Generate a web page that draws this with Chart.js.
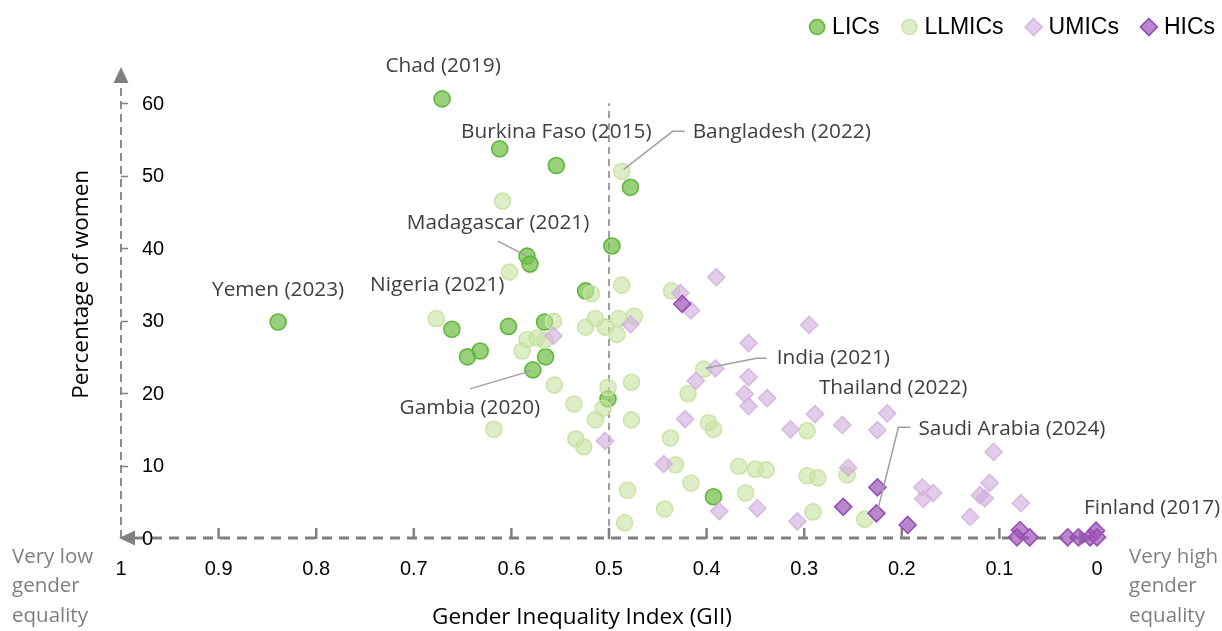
<!DOCTYPE html>
<html>
<head>
<meta charset="utf-8">
<script src="https://cdn.jsdelivr.net/npm/chart.js@4.4.1/dist/chart.umd.min.js"></script>
<style>
html,body{margin:0;padding:0;background:#ffffff;}
#wrap{width:1222px;height:631px;}
</style>
</head>
<body>
<div id="wrap"><canvas id="c" width="1222" height="631"></canvas></div>
<script>
// ---------------- DATA ----------------
const seriesNames = ['LICs', 'LLMICs', 'UMICs', 'HICs'];

const licGII = [0.671, 0.612, 0.554, 0.478, 0.497, 0.584, 0.581, 0.524, 0.661, 0.603, 0.566, 0.645, 0.632, 0.565, 0.578, 0.839, 0.501, 0.393];
const licPct = [60.6, 53.7, 51.4, 48.4, 40.3, 38.9, 37.8, 34.1, 28.8, 29.2, 29.8, 25.0, 25.8, 25.0, 23.2, 29.8, 19.2, 5.7];

const llmicGII = [0.487, 0.609, 0.602, 0.487, 0.518, 0.436, 0.514, 0.524, 0.504, 0.490, 0.474, 0.492, 0.677, 0.557, 0.584, 0.574, 0.566, 0.589,
  0.556, 0.536, 0.501, 0.506, 0.514, 0.477, 0.477, 0.618, 0.534, 0.526, 0.403, 0.419, 0.398, 0.393, 0.437, 0.297, 0.432, 0.367,
  0.350, 0.339, 0.297, 0.286, 0.416, 0.481, 0.360, 0.443, 0.291, 0.484, 0.256, 0.238];
const llmicPct = [50.6, 46.5, 36.7, 34.9, 33.7, 34.1, 30.3, 29.1, 29.1, 30.3, 30.6, 28.1, 30.3, 29.9, 27.4, 27.6, 27.3, 25.8,
  21.1, 18.5, 20.8, 17.9, 16.3, 21.5, 16.3, 15.0, 13.7, 12.6, 23.3, 19.9, 15.9, 15.0, 13.8, 14.8, 10.1, 9.9,
  9.5, 9.4, 8.6, 8.3, 7.6, 6.6, 6.2, 4.0, 3.6, 2.1, 8.7, 2.6];

const umicGII = [0.557, 0.504, 0.427, 0.416, 0.390, 0.478, 0.391, 0.411, 0.357, 0.357, 0.361, 0.357, 0.338, 0.295, 0.422, 0.314, 0.289,
  0.444, 0.387, 0.348, 0.307, 0.261, 0.215, 0.225, 0.255, 0.179, 0.178, 0.168, 0.110, 0.120, 0.115, 0.130, 0.106, 0.078];
const umicPct = [27.9, 13.4, 33.8, 31.4, 36.0, 29.5, 23.4, 21.7, 26.9, 22.2, 19.9, 18.2, 19.3, 29.4, 16.4, 15.0, 17.1,
  10.2, 3.7, 4.1, 2.3, 15.6, 17.2, 14.9, 9.7, 7.0, 5.4, 6.2, 7.6, 5.9, 5.5, 2.9, 11.9, 4.8];

const hicGII = [0.425, 0.225, 0.260, 0.226, 0.194, 0.079, 0.082, 0.069, 0.030, 0.019, 0.007, 0.001, 0.000];
const hicPct = [32.3, 7.0, 4.3, 3.4, 1.8, 1.1, 0.1, 0.1, 0.1, 0.1, 0.1, 1.0, 0.1];

const xTicks = [1, 0.9, 0.8, 0.7, 0.6, 0.5, 0.4, 0.3, 0.2, 0.1, 0];
const xTickLabels = ['1', '0.9', '0.8', '0.7', '0.6', '0.5', '0.4', '0.3', '0.2', '0.1', '0'];
const yTicks = [0, 10, 20, 30, 40, 50, 60];
const yTickLabels = ['0', '10', '20', '30', '40', '50', '60'];
const dividerGII = 0.5;

const xTitle = 'Gender Inequality Index (GII)';
const yTitle = 'Percentage of women';
const leftNote = ['Very low', 'gender', 'equality'];
const rightNote = ['Very high', 'gender', 'equality'];

const annotationText = ['Chad (2019)', 'Burkina Faso (2015)', 'Bangladesh (2022)', 'Madagascar (2021)', 'Nigeria (2021)',
  'Yemen (2023)', 'Gambia (2020)', 'India (2021)', 'Thailand (2022)', 'Saudi Arabia (2024)', 'Finland (2017)'];
const annotationGII = [0.671, 0.554, 0.487, 0.584, 0.677, 0.839, 0.578, 0.403, 0.215, 0.226, 0.001];
const annotationPct = [60.6, 51.4, 50.6, 38.9, 30.3, 29.8, 23.2, 23.3, 17.2, 3.4, 1.0];

// ---------------- LAYOUT / STYLE (not data) ----------------
const annotationLayout = [
  {dx: 1, dy: -33, align: 'center'},
  {dx: 0, dy: -33, align: 'center'},
  {dx: 71, dy: -39, align: 'left', leader: [[2, -2], [51, -40], [63, -40]]},
  {dx: -29, dy: -33, align: 'center', leader: [[-29, -15], [-2, -1]]},
  {dx: 1, dy: -33, align: 'center'},
  {dx: 0, dy: -32, align: 'center'},
  {dx: -63, dy: 38, align: 'center', leader: [[-63, 19], [-2, 1]]},
  {dx: 73, dy: -11, align: 'left', leader: [[2, -1], [53, -11], [63, -11]]},
  {dx: 6, dy: -25, align: 'center'},
  {dx: 42, dy: -84, align: 'left', leader: [[1, -2], [22, -86], [34, -86]]},
  {dx: 56, dy: -23, align: 'center'}
];

const styles = [
  {bg: 'rgba(112,190,72,0.72)', border: 'rgba(96,182,58,1)', shape: 'circle', radius: 8, bw: 1.6, order: 4},
  {bg: 'rgba(198,226,160,0.6)', border: 'rgba(200,228,162,0.95)', shape: 'circle', radius: 8, bw: 1.6, order: 3},
  {bg: 'rgba(208,170,218,0.6)', border: 'rgba(214,182,224,0.95)', shape: 'rectRot', radius: 8.5, bw: 1.6, order: 2},
  {bg: 'rgba(160,88,186,0.72)', border: 'rgba(150,78,178,1)', shape: 'rectRot', radius: 8.5, bw: 1.6, order: 1}
];

const AXIS_COLOR = '#808080';
const TEXT_FONT = '"Open Sans", "Noto Sans", sans-serif';
const TICK_FONT = '"Liberation Sans", Arial, sans-serif';

function pairs(xs, ys) { return xs.map((v, i) => ({x: v, y: ys[i]})); }

const gii = [licGII, llmicGII, umicGII, hicGII];
const pct = [licPct, llmicPct, umicPct, hicPct];

const datasets = seriesNames.map((name, i) => ({
  label: name,
  data: pairs(gii[i], pct[i]),
  pointStyle: styles[i].shape,
  pointRadius: styles[i].radius,
  pointBackgroundColor: styles[i].bg,
  pointBorderColor: styles[i].border,
  pointBorderWidth: styles[i].bw,
  backgroundColor: styles[i].bg,
  borderColor: styles[i].border,
  order: styles[i].order,
  clip: false
}));

function drawMarker(ctx, shape, x, y, r, bg, border, bw) {
  ctx.save();
  ctx.beginPath();
  if (shape === 'circle') {
    ctx.arc(x, y, r, 0, Math.PI * 2);
  } else {
    ctx.moveTo(x, y - r); ctx.lineTo(x + r, y); ctx.lineTo(x, y + r); ctx.lineTo(x - r, y); ctx.closePath();
  }
  ctx.fillStyle = bg; ctx.fill();
  ctx.lineWidth = bw; ctx.strokeStyle = border; ctx.stroke();
  ctx.restore();
}

const axesPlugin = {
  id: 'customAxes',
  beforeDatasetsDraw(chart) {
    const {ctx, scales: {x, y}, chartArea} = chart;
    const xLeft = x.getPixelForValue(1);
    const xRight = x.getPixelForValue(0);
    const yBase = y.getPixelForValue(0);
    const yTop = chartArea.top;
    ctx.save();
    ctx.strokeStyle = AXIS_COLOR;
    ctx.fillStyle = AXIS_COLOR;

    const xm = x.getPixelForValue(dividerGII);
    ctx.lineWidth = 1.5; ctx.setLineDash([7, 5]);
    ctx.beginPath(); ctx.moveTo(xm, yBase); ctx.lineTo(xm, y.getPixelForValue(60)); ctx.stroke();

    ctx.lineWidth = 1.8; ctx.setLineDash([8, 5]);
    ctx.beginPath(); ctx.moveTo(xLeft, yBase); ctx.lineTo(xLeft, yTop + 15); ctx.stroke();
    ctx.setLineDash([]);
    ctx.beginPath(); ctx.moveTo(xLeft, yTop); ctx.lineTo(xLeft - 7.5, yTop + 16); ctx.lineTo(xLeft + 7.5, yTop + 16); ctx.closePath(); ctx.fill();

    ctx.lineWidth = 1.5;
    yTicks.forEach(v => {
      if (v === 0) return;
      const py = Math.round(y.getPixelForValue(v)) + 0.5;
      ctx.beginPath(); ctx.moveTo(xLeft, py); ctx.lineTo(xLeft + 7, py); ctx.stroke();
    });

    ctx.lineWidth = 3; ctx.setLineDash([10, 7]);
    ctx.beginPath(); ctx.moveTo(xLeft + 14, yBase); ctx.lineTo(xRight - 16, yBase); ctx.stroke();
    ctx.setLineDash([]);
    ctx.beginPath(); ctx.moveTo(xLeft - 2, yBase); ctx.lineTo(xLeft + 14, yBase - 7.5); ctx.lineTo(xLeft + 14, yBase + 7.5); ctx.closePath(); ctx.fill();
    ctx.beginPath(); ctx.moveTo(xRight - 3, yBase); ctx.lineTo(xRight - 18, yBase - 7.5); ctx.lineTo(xRight - 18, yBase + 7.5); ctx.closePath(); ctx.fill();

    ctx.lineWidth = 2.5;
    xTicks.forEach(v => {
      if (v === 1 || v === 0) return;
      const px = x.getPixelForValue(v);
      ctx.beginPath(); ctx.moveTo(px, yBase + 1); ctx.lineTo(px, yBase - 10); ctx.stroke();
    });

    ctx.fillStyle = '#000000';
    ctx.font = '20px ' + TICK_FONT;
    ctx.textBaseline = 'middle';
    ctx.textAlign = 'center';
    xTicks.forEach((v, i) => {
      ctx.fillText(xTickLabels[i], x.getPixelForValue(v), yBase + 31);
    });
    ctx.textAlign = 'left';
    yTicks.forEach((v, i) => {
      ctx.fillText(yTickLabels[i], xLeft + 21, y.getPixelForValue(v) + 1);
    });

    ctx.font = '22.5px ' + TEXT_FONT;
    ctx.textAlign = 'center';
    ctx.fillText(xTitle, 582, 618);
    ctx.save();
    ctx.translate(82, y.getPixelForValue(35));
    ctx.rotate(-Math.PI / 2);
    ctx.fillText(yTitle, 0, 0);
    ctx.restore();

    ctx.fillStyle = '#7f7f7f';
    ctx.font = '20.5px ' + TEXT_FONT;
    ctx.textAlign = 'left';
    leftNote.forEach((t, i) => ctx.fillText(t, 12, 557 + i * 29.5));
    rightNote.forEach((t, i) => ctx.fillText(t, 1129, 557 + i * 29.5));
    ctx.restore();
  },
  afterDatasetsDraw(chart) {
    const {ctx, scales: {x, y}} = chart;
    ctx.save();
    annotationText.forEach((t, i) => {
      const px = x.getPixelForValue(annotationGII[i]);
      const py = y.getPixelForValue(annotationPct[i]);
      const L = annotationLayout[i];
      if (L.leader) {
        ctx.strokeStyle = '#a0a0a0'; ctx.lineWidth = 1.5; ctx.setLineDash([]);
        ctx.beginPath();
        L.leader.forEach((p, k) => { if (k === 0) ctx.moveTo(px + p[0], py + p[1]); else ctx.lineTo(px + p[0], py + p[1]); });
        ctx.stroke();
      }
      ctx.fillStyle = '#404040';
      ctx.font = '20.8px ' + TEXT_FONT;
      ctx.textAlign = L.align;
      ctx.textBaseline = 'middle';
      ctx.fillText(t, px + L.dx, py + L.dy);
    });

    ctx.font = '23px ' + TICK_FONT;
    ctx.textBaseline = 'middle';
    ctx.textAlign = 'left';
    let right = 1215;
    const ly = 27;
    for (let i = seriesNames.length - 1; i >= 0; i--) {
      const w = ctx.measureText(seriesNames[i]).width;
      const tx = right - w;
      const mx = tx - 15;
      drawMarker(ctx, styles[i].shape, mx, ly, styles[i].shape === 'circle' ? 7.5 : 8.5, styles[i].bg, styles[i].border, styles[i].bw);
      ctx.fillStyle = '#000000';
      ctx.fillText(seriesNames[i], tx, ly + 1);
      right = mx - 30;
    }
    ctx.restore();
  }
};

new Chart(document.getElementById('c').getContext('2d'), {
  type: 'scatter',
  data: {datasets},
  options: {
    responsive: false,
    animation: false,
    events: [],
    layout: {padding: {left: 121, right: 125, top: 67, bottom: 93}},
    scales: {
      x: {type: 'linear', min: 0, max: 1, reverse: true, display: false},
      y: {type: 'linear', min: 0, max: 65, display: false}
    },
    plugins: {legend: {display: false}, tooltip: {enabled: false}}
  },
  plugins: [axesPlugin]
});
</script>
</body>
</html>
